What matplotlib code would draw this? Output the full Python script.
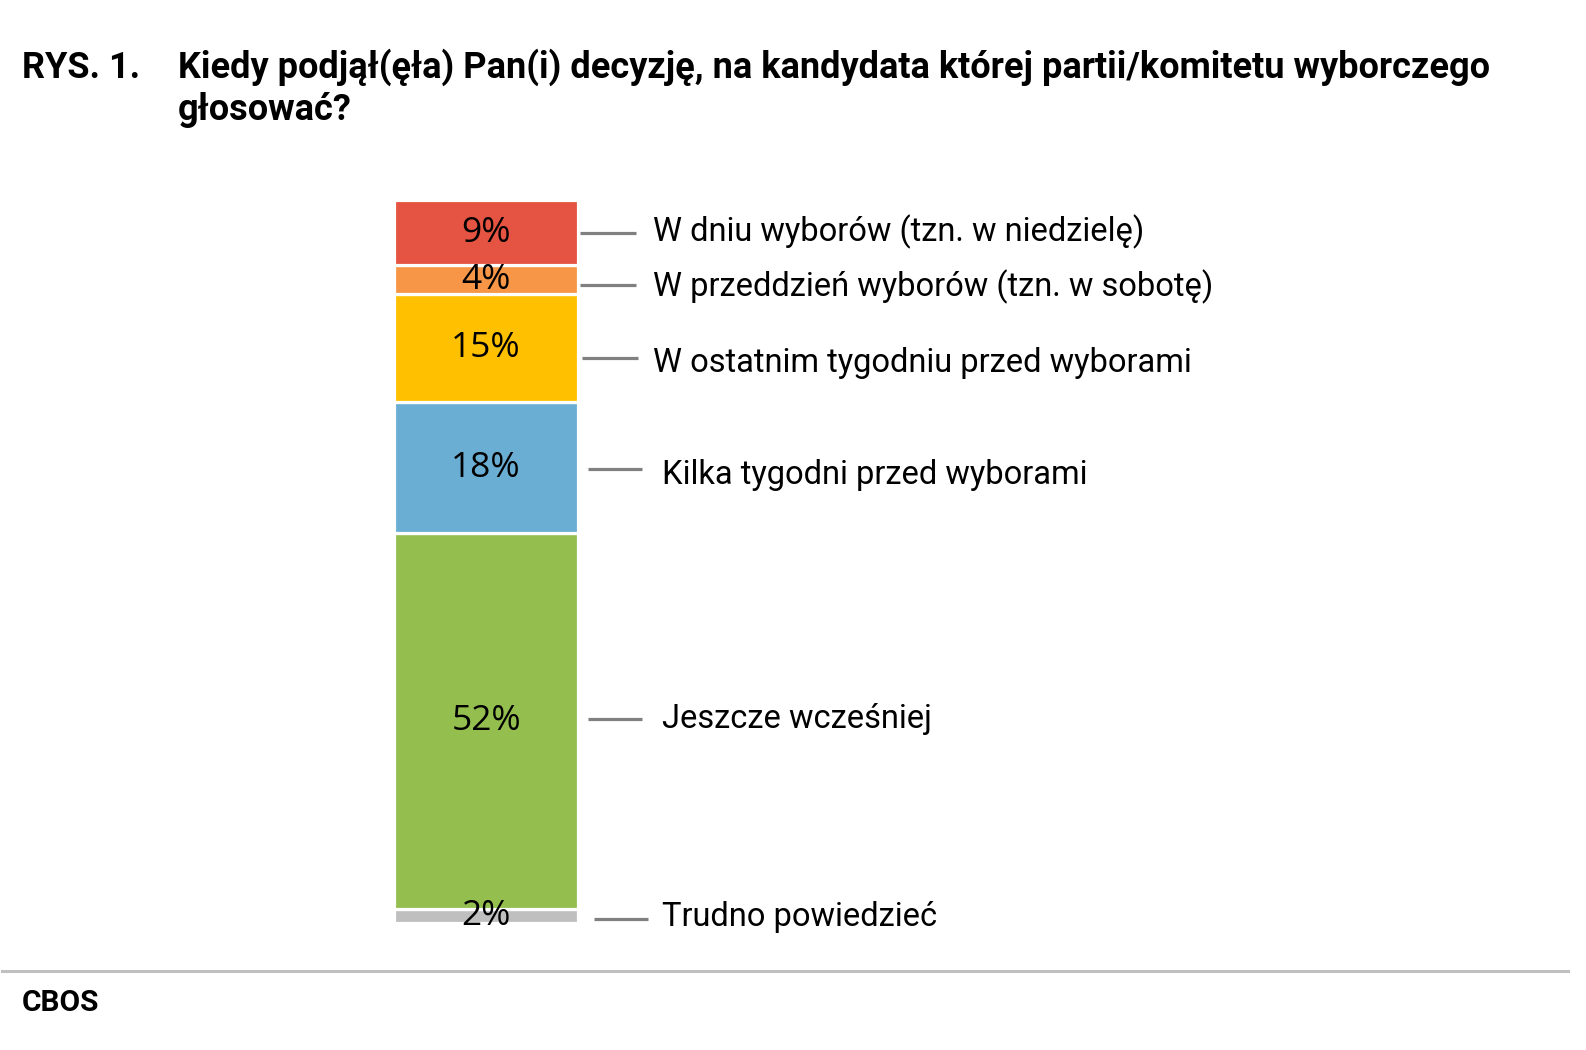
import matplotlib
matplotlib.use("Agg")
import matplotlib.pyplot as plt
import matplotlib.transforms as mtransforms
import numpy as np

# data (bottom -> top)
categories = [
    "Trudno powiedzieć",
    "Jeszcze wcześniej",
    "Kilka tygodni przed wyborami",
    "W ostatnim tygodniu przed wyborami",
    "W przeddzień wyborów (tzn. w sobotę)",
    "W dniu wyborów (tzn. w niedzielę)",
]
values = [2, 52, 18, 15, 4, 9]
colors = ["#BFBFBF", "#94BF4F", "#6BAED3", "#FFC000", "#F79646", "#E55342"]

title_num = "RYS. 1."
title_lines = ["Kiedy podjął(ęła) Pan(i) decyzję, na kandydata której partii/komitetu wyborczego",
               "głosować?"]
source = "CBOS"

W, H = 1586, 1050
fig = plt.figure(figsize=(W / 100, H / 100), dpi=100)


def fx(px):
    return px / W


def fy(py):
    return 1 - py / H


# bar axes placed on the bar area
ax = fig.add_axes([fx(394), fy(923), fx(578) - fx(394), (923 - 200) / H])
bottoms = np.concatenate([[0], np.cumsum(values)[:-1]])
ax.bar(0, values, bottom=bottoms, width=1, color=colors, edgecolor="white", linewidth=2.3)
ax.set_xlim(-0.5, 0.5)
ax.set_ylim(0, sum(values))
ax.axis("off")

px_per_unit = (923 - 200) / sum(values)
centers = bottoms + np.array(values) / 2

for c, v in zip(centers, values):
    ax.text(0, c, f"{v}%", ha="center", va="center", fontsize=25.5,
            family="Open Sans", color="black")

# leader lines and labels (layout offsets in pixels, positive = down)
line_dy = [3, -1.5, 1.5, 9.5, 5.5, 0]
text_dy = [-2, 0, 6, 5, 2, -1]
line_x0 = [594, 588, 588, 582, 580, 580]
line_x1 = [648, 642, 642, 638, 636, 636]
text_x = [662, 662, 662, 653, 653, 653]

trans = mtransforms.blended_transform_factory(fig.transFigure, ax.transData)
for i, (c, lab) in enumerate(zip(centers, categories)):
    ly = c - line_dy[i] / px_per_unit
    ax.plot([fx(line_x0[i]), fx(line_x1[i])], [ly, ly], color="#808080", lw=2.3,
            transform=trans, clip_on=False, solid_capstyle="butt")
    ty = ly - text_dy[i] / px_per_unit
    ax.text(fx(text_x[i]), ty, lab, transform=trans, ha="left", va="center",
            fontsize=23.5, family="Roboto", color="black")

# title
fig.text(fx(22), fy(78), title_num, ha="left", va="baseline", fontsize=26,
         family="Roboto", weight="bold")
for i, line in enumerate(title_lines):
    fig.text(fx(178), fy(78 + 42 * i), line, ha="left", va="baseline", fontsize=26,
             family="Roboto", weight="bold")

# footer line and source
fig.add_artist(plt.Line2D([fx(2), fx(1568)], [fy(971), fy(971)], color="#BFBFBF",
                          lw=2.2, transform=fig.transFigure))
fig.text(fx(22), fy(1003), source, ha="left", va="center", fontsize=21.5,
         family="Roboto", weight="bold")

fig.savefig("out.png", dpi=100, facecolor="white")
